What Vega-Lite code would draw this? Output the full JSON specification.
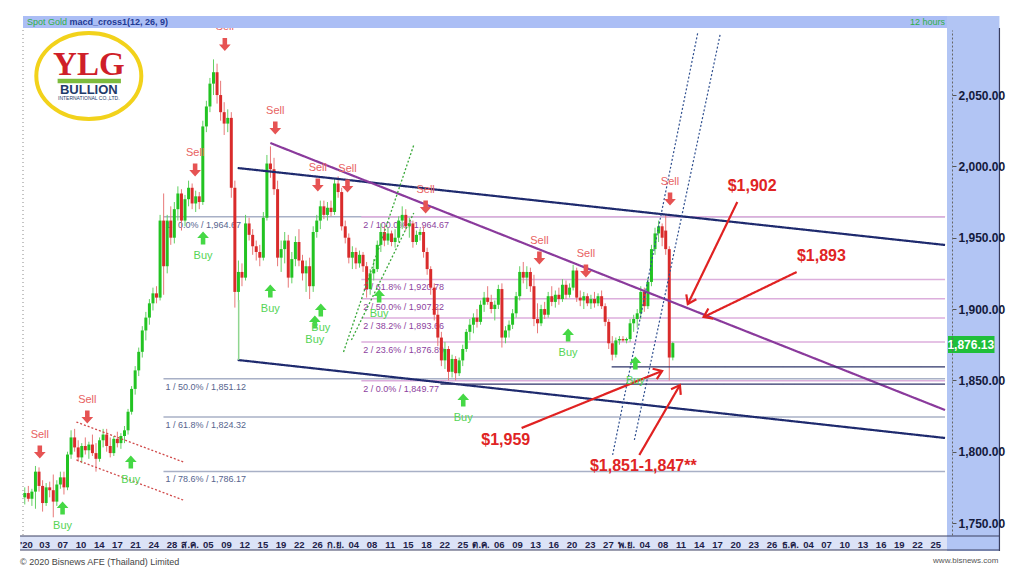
{
"$schema": "https://vega.github.io/schema/vega-lite/v6.json",
"width": 934, "height": 505,
"autosize": {"type": "none"},
"padding": {"left": 18, "top": 30, "right": 72, "bottom": 36},
"background": "white",
"config": {"view": {"stroke": null}, "font": "Liberation Sans"},
"resolve": {"scale": {"color": "independent", "shape": "independent", "strokeDash": "independent", "strokeWidth": "independent", "angle": "independent"}},
"datasets": {
"candles": [
{"i":0,"o":1768,"h":1775,"l":1763,"c":1771},{"i":1,"o":1771,"h":1776,"l":1765,"c":1767},{"i":2,"o":1767,"h":1774,"l":1762,"c":1772},{"i":3,"o":1772,"h":1790,"l":1760,"c":1786},{"i":4,"o":1786,"h":1789,"l":1772,"c":1776},{"i":5,"o":1776,"h":1780,"l":1758,"c":1764},{"i":6,"o":1764,"h":1778,"l":1762,"c":1775},{"i":7,"o":1775,"h":1779,"l":1768,"c":1773},{"i":8,"o":1773,"h":1784,"l":1754,"c":1765},{"i":9,"o":1765,"h":1780,"l":1762,"c":1777},
{"i":10,"o":1777,"h":1786,"l":1774,"c":1782},{"i":11,"o":1782,"h":1786,"l":1770,"c":1775},{"i":12,"o":1775,"h":1800,"l":1773,"c":1798},{"i":13,"o":1798,"h":1815,"l":1795,"c":1810},{"i":14,"o":1810,"h":1816,"l":1800,"c":1803},{"i":15,"o":1803,"h":1808,"l":1793,"c":1796},{"i":16,"o":1796,"h":1806,"l":1792,"c":1804},{"i":17,"o":1804,"h":1810,"l":1798,"c":1801},{"i":18,"o":1801,"h":1807,"l":1795,"c":1805},{"i":19,"o":1805,"h":1812,"l":1797,"c":1799},
{"i":20,"o":1799,"h":1806,"l":1786,"c":1795},{"i":21,"o":1795,"h":1810,"l":1793,"c":1808},{"i":22,"o":1808,"h":1816,"l":1803,"c":1812},{"i":23,"o":1812,"h":1816,"l":1800,"c":1804},{"i":24,"o":1804,"h":1810,"l":1796,"c":1799},{"i":25,"o":1799,"h":1811,"l":1797,"c":1809},{"i":26,"o":1809,"h":1814,"l":1803,"c":1806},{"i":27,"o":1806,"h":1813,"l":1802,"c":1811},{"i":28,"o":1811,"h":1818,"l":1806,"c":1815},{"i":29,"o":1815,"h":1830,"l":1812,"c":1828},
{"i":30,"o":1828,"h":1846,"l":1826,"c":1844},{"i":31,"o":1844,"h":1860,"l":1840,"c":1857},{"i":32,"o":1857,"h":1873,"l":1853,"c":1870},{"i":33,"o":1870,"h":1888,"l":1866,"c":1885},{"i":34,"o":1885,"h":1898,"l":1878,"c":1894},{"i":35,"o":1894,"h":1907,"l":1889,"c":1904},{"i":36,"o":1904,"h":1915,"l":1899,"c":1911},{"i":37,"o":1911,"h":1916,"l":1904,"c":1908},{"i":38,"o":1908,"h":1966,"l":1906,"c":1962},{"i":39,"o":1962,"h":1981,"l":1910,"c":1930},
{"i":40,"o":1930,"h":1966,"l":1925,"c":1962},{"i":41,"o":1962,"h":1972,"l":1945,"c":1950},{"i":42,"o":1950,"h":1975,"l":1946,"c":1970},{"i":43,"o":1970,"h":1986,"l":1962,"c":1981},{"i":44,"o":1981,"h":1984,"l":1955,"c":1962},{"i":45,"o":1962,"h":1980,"l":1958,"c":1977},{"i":46,"o":1977,"h":1990,"l":1972,"c":1985},{"i":47,"o":1985,"h":1988,"l":1970,"c":1974},{"i":48,"o":1974,"h":1983,"l":1968,"c":1979},{"i":49,"o":1979,"h":1982,"l":1970,"c":1975},
{"i":50,"o":1975,"h":2032,"l":1973,"c":2028},{"i":51,"o":2028,"h":2046,"l":2024,"c":2042},{"i":52,"o":2042,"h":2062,"l":2038,"c":2058},{"i":53,"o":2058,"h":2075,"l":2050,"c":2066},{"i":54,"o":2066,"h":2072,"l":2044,"c":2050},{"i":55,"o":2050,"h":2060,"l":2032,"c":2038},{"i":56,"o":2038,"h":2045,"l":2022,"c":2030},{"i":57,"o":2030,"h":2040,"l":2024,"c":2034},{"i":58,"o":2034,"h":2038,"l":1978,"c":1985},{"i":59,"o":1985,"h":1990,"l":1901,"c":1912},
{"i":60,"o":1912,"h":1934,"l":1905,"c":1926},{"i":61,"o":1926,"h":1932,"l":1916,"c":1922},{"i":62,"o":1922,"h":1966,"l":1920,"c":1960},{"i":63,"o":1960,"h":1964,"l":1948,"c":1952},{"i":64,"o":1952,"h":1956,"l":1938,"c":1944},{"i":65,"o":1944,"h":1948,"l":1934,"c":1940},{"i":66,"o":1940,"h":1945,"l":1930,"c":1936},{"i":67,"o":1936,"h":1968,"l":1934,"c":1964},{"i":68,"o":1964,"h":2008,"l":1962,"c":2002},{"i":69,"o":2002,"h":2014,"l":1992,"c":1998},
{"i":70,"o":1998,"h":2006,"l":1980,"c":1984},{"i":71,"o":1984,"h":1990,"l":1930,"c":1936},{"i":72,"o":1936,"h":1948,"l":1926,"c":1942},{"i":73,"o":1942,"h":1954,"l":1932,"c":1948},{"i":74,"o":1948,"h":1952,"l":1915,"c":1922},{"i":75,"o":1922,"h":1940,"l":1918,"c":1935},{"i":76,"o":1935,"h":1951,"l":1930,"c":1947},{"i":77,"o":1947,"h":1956,"l":1930,"c":1934},{"i":78,"o":1934,"h":1938,"l":1920,"c":1925},{"i":79,"o":1925,"h":1934,"l":1912,"c":1930},
{"i":80,"o":1930,"h":1936,"l":1907,"c":1916},{"i":81,"o":1916,"h":1958,"l":1912,"c":1954},{"i":82,"o":1954,"h":1966,"l":1950,"c":1962},{"i":83,"o":1962,"h":1976,"l":1956,"c":1972},{"i":84,"o":1972,"h":1976,"l":1963,"c":1966},{"i":85,"o":1966,"h":1975,"l":1962,"c":1971},{"i":86,"o":1971,"h":1976,"l":1965,"c":1968},{"i":87,"o":1968,"h":1992,"l":1966,"c":1988},{"i":88,"o":1988,"h":1993,"l":1978,"c":1982},{"i":89,"o":1982,"h":1985,"l":1955,"c":1958},
{"i":90,"o":1958,"h":1962,"l":1946,"c":1950},{"i":91,"o":1950,"h":1953,"l":1932,"c":1936},{"i":92,"o":1936,"h":1944,"l":1928,"c":1940},{"i":93,"o":1940,"h":1943,"l":1928,"c":1932},{"i":94,"o":1932,"h":1941,"l":1929,"c":1938},{"i":95,"o":1938,"h":1940,"l":1926,"c":1930},{"i":96,"o":1930,"h":1933,"l":1908,"c":1914},{"i":97,"o":1914,"h":1928,"l":1910,"c":1925},{"i":98,"o":1925,"h":1935,"l":1920,"c":1928},{"i":99,"o":1928,"h":1948,"l":1926,"c":1945},
{"i":100,"o":1945,"h":1960,"l":1940,"c":1954},{"i":101,"o":1954,"h":1958,"l":1944,"c":1948},{"i":102,"o":1948,"h":1957,"l":1945,"c":1953},{"i":103,"o":1953,"h":1955,"l":1944,"c":1947},{"i":104,"o":1947,"h":1956,"l":1943,"c":1950},{"i":105,"o":1950,"h":1965,"l":1947,"c":1962},{"i":106,"o":1962,"h":1972,"l":1956,"c":1966},{"i":107,"o":1966,"h":1970,"l":1955,"c":1958},{"i":108,"o":1958,"h":1964,"l":1950,"c":1960},{"i":109,"o":1960,"h":1962,"l":1943,"c":1947},
{"i":110,"o":1947,"h":1955,"l":1945,"c":1952},{"i":111,"o":1952,"h":1956,"l":1948,"c":1954},{"i":112,"o":1954,"h":1958,"l":1936,"c":1940},{"i":113,"o":1940,"h":1943,"l":1924,"c":1928},{"i":114,"o":1928,"h":1930,"l":1910,"c":1915},{"i":115,"o":1915,"h":1918,"l":1892,"c":1896},{"i":116,"o":1896,"h":1901,"l":1874,"c":1880},{"i":117,"o":1880,"h":1884,"l":1860,"c":1864},{"i":118,"o":1864,"h":1877,"l":1858,"c":1872},{"i":119,"o":1872,"h":1874,"l":1850,"c":1856},
{"i":120,"o":1856,"h":1868,"l":1852,"c":1865},{"i":121,"o":1865,"h":1867,"l":1850,"c":1855},{"i":122,"o":1855,"h":1866,"l":1853,"c":1864},{"i":123,"o":1864,"h":1875,"l":1860,"c":1872},{"i":124,"o":1872,"h":1886,"l":1870,"c":1884},{"i":125,"o":1884,"h":1893,"l":1878,"c":1889},{"i":126,"o":1889,"h":1897,"l":1883,"c":1894},{"i":127,"o":1894,"h":1900,"l":1887,"c":1891},{"i":128,"o":1891,"h":1906,"l":1889,"c":1903},{"i":129,"o":1903,"h":1912,"l":1898,"c":1908},
{"i":130,"o":1908,"h":1916,"l":1903,"c":1905},{"i":131,"o":1905,"h":1910,"l":1897,"c":1900},{"i":132,"o":1900,"h":1906,"l":1892,"c":1903},{"i":133,"o":1903,"h":1917,"l":1900,"c":1914},{"i":134,"o":1914,"h":1918,"l":1873,"c":1880},{"i":135,"o":1880,"h":1888,"l":1876,"c":1885},{"i":136,"o":1885,"h":1892,"l":1880,"c":1889},{"i":137,"o":1889,"h":1900,"l":1886,"c":1897},{"i":138,"o":1897,"h":1912,"l":1894,"c":1909},{"i":139,"o":1909,"h":1930,"l":1906,"c":1926},
{"i":140,"o":1926,"h":1933,"l":1918,"c":1922},{"i":141,"o":1922,"h":1930,"l":1914,"c":1926},{"i":142,"o":1926,"h":1929,"l":1912,"c":1916},{"i":143,"o":1916,"h":1924,"l":1888,"c":1893},{"i":144,"o":1893,"h":1904,"l":1883,"c":1890},{"i":145,"o":1890,"h":1903,"l":1888,"c":1900},{"i":146,"o":1900,"h":1905,"l":1893,"c":1896},{"i":147,"o":1896,"h":1912,"l":1894,"c":1909},{"i":148,"o":1909,"h":1916,"l":1902,"c":1905},{"i":149,"o":1905,"h":1913,"l":1901,"c":1910},
{"i":150,"o":1910,"h":1915,"l":1903,"c":1907},{"i":151,"o":1907,"h":1921,"l":1905,"c":1917},{"i":152,"o":1917,"h":1920,"l":1907,"c":1910},{"i":153,"o":1910,"h":1918,"l":1908,"c":1915},{"i":154,"o":1915,"h":1931,"l":1913,"c":1927},{"i":155,"o":1927,"h":1929,"l":1905,"c":1908},{"i":156,"o":1908,"h":1913,"l":1902,"c":1906},{"i":157,"o":1906,"h":1912,"l":1900,"c":1909},{"i":158,"o":1909,"h":1911,"l":1902,"c":1904},{"i":159,"o":1904,"h":1910,"l":1900,"c":1907},
{"i":160,"o":1907,"h":1912,"l":1901,"c":1904},{"i":161,"o":1904,"h":1911,"l":1902,"c":1909},{"i":162,"o":1909,"h":1913,"l":1900,"c":1902},{"i":163,"o":1902,"h":1904,"l":1888,"c":1891},{"i":164,"o":1891,"h":1893,"l":1872,"c":1876},{"i":165,"o":1876,"h":1881,"l":1864,"c":1868},{"i":166,"o":1868,"h":1880,"l":1866,"c":1878},{"i":167,"o":1878,"h":1881,"l":1875,"c":1879},{"i":168,"o":1879,"h":1881,"l":1877,"c":1878},{"i":169,"o":1878,"h":1880,"l":1876,"c":1879},
{"i":170,"o":1879,"h":1893,"l":1877,"c":1890},{"i":171,"o":1890,"h":1896,"l":1884,"c":1893},{"i":172,"o":1893,"h":1900,"l":1887,"c":1897},{"i":173,"o":1897,"h":1916,"l":1893,"c":1912},{"i":174,"o":1912,"h":1915,"l":1898,"c":1902},{"i":175,"o":1902,"h":1922,"l":1900,"c":1919},{"i":176,"o":1919,"h":1945,"l":1916,"c":1942},{"i":177,"o":1942,"h":1957,"l":1938,"c":1953},{"i":178,"o":1953,"h":1962,"l":1947,"c":1958},{"i":179,"o":1958,"h":1960,"l":1944,"c":1950},
{"i":180,"o":1955,"h":1966,"l":1938,"c":1942},{"i":181,"o":1942,"h":1944,"l":1850,"c":1866},{"i":182,"o":1866,"h":1877,"l":1864,"c":1876.13}
],
"fib": [
{"set":"1","i1":38.95,"i2":258.45,"p":1964.67,"t":"1 / 0.0% / 1,964.67"},
{"set":"1","i1":38.95,"i2":258.45,"p":1851.12,"t":"1 / 50.0% / 1,851.12"},
{"set":"1","i1":38.95,"i2":258.45,"p":1824.32,"t":"1 / 61.8% / 1,824.32"},
{"set":"1","i1":38.95,"i2":258.45,"p":1786.17,"t":"1 / 78.6% / 1,786.17"},
{"set":"2","i1":94.52,"i2":258.45,"p":1964.67,"t":"2 / 100.0% / 1,964.67"},
{"set":"2","i1":94.52,"i2":258.45,"p":1920.78,"t":"2 / 61.8% / 1,920.78"},
{"set":"2","i1":94.52,"i2":258.45,"p":1907.22,"t":"2 / 50.0% / 1,907.22"},
{"set":"2","i1":94.52,"i2":258.45,"p":1893.66,"t":"2 / 38.2% / 1,893.66"},
{"set":"2","i1":94.52,"i2":258.45,"p":1876.89,"t":"2 / 23.6% / 1,876.89"},
{"set":"2","i1":94.52,"i2":258.45,"p":1849.77,"t":"2 / 0.0% / 1,849.77"}
],
"lines": [
{"kind":"navy","i1":59.79,"p1":1998.86,"i2":258.45,"p2":1944.9},
{"kind":"navy","i1":59.79,"p1":1864.3,"i2":258.45,"p2":1809.6},
{"kind":"greenv","i1":60.07,"p1":1906.3,"i2":60.07,"p2":1864.3},
{"kind":"purple","i1":68.96,"p1":2016.4,"i2":258.45,"p2":1829.2},
{"kind":"greendot","i1":89.52,"p1":1869.9,"i2":109.25,"p2":2015.0},
{"kind":"greendot","i1":91.74,"p1":1878.3,"i2":109.25,"p2":1967.3},
{"kind":"bluedot","i1":165.09,"p1":1797.7,"i2":188.99,"p2":2093.5},
{"kind":"bluedot","i1":171.2,"p1":1808.2,"i2":195.38,"p2":2093.5},
{"kind":"reddot","i1":14.5,"p1":1820.8,"i2":44.51,"p2":1792.8},
{"kind":"reddot","i1":14.5,"p1":1794.2,"i2":44.51,"p2":1766.1},
{"kind":"dark","i1":164.82,"p1":1859.4,"i2":258.45,"p2":1859.4},
{"kind":"dark","i1":116.75,"p1":1847.4,"i2":258.45,"p2":1847.4},
{"kind":"arrow","i1":200.10,"p1":1975.0,"i2":186.21,"p2":1903.5},
{"kind":"arrow","i1":216.77,"p1":1925.95,"i2":190.65,"p2":1894.4},
{"kind":"arrow","i1":139.53,"p1":1816.6,"i2":178.99,"p2":1856.6},
{"kind":"arrow","i1":172.59,"p1":1797.7,"i2":183.99,"p2":1846.7},
{"kind":"axisdot","i1":-0.5,"p1":1741.6,"i2":-0.5,"p2":2095.6},
{"kind":"frame","i1":273.73,"p1":2097.0,"i2":273.73,"p2":1730.4},
{"kind":"frame","i1":-1.33,"p1":1740.9,"i2":273.73,"p2":1740.9},
{"kind":"frame","i1":-1.33,"p1":1731.1,"i2":273.73,"p2":1731.1},
{"kind":"logobar","i1":9.22,"p1":2059.85,"i2":27.0,"p2":2059.85}
],
"heads": [
{"name":"a","i":186.21,"p":1903.5},{"name":"b","i":190.65,"p":1894.4},{"name":"c","i":178.99,"p":1856.6},{"name":"d","i":183.99,"p":1846.7}
],
"signals": [
{"type":"Sell","i":4.22,"p":1799.8},{"type":"Sell","i":17.56,"p":1824.3},{"type":"Sell","i":56.18,"p":2085.5},{"type":"Sell","i":47.84,"p":1997.5},{"type":"Sell","i":70.35,"p":2026.9},{"type":"Sell","i":82.3,"p":1986.9},{"type":"Sell","i":90.63,"p":1986.2},{"type":"Sell","i":112.58,"p":1971.5},{"type":"Sell","i":144.53,"p":1935.8},{"type":"Sell","i":157.59,"p":1926.7},{"type":"Sell","i":181.21,"p":1977.1},
{"type":"Buy","i":10.61,"p":1760.5},{"type":"Buy","i":29.78,"p":1792.8},{"type":"Buy","i":50.07,"p":1949.8},{"type":"Buy","i":68.96,"p":1912.6},{"type":"Buy","i":83.13,"p":1899.3},{"type":"Buy","i":81.46,"p":1890.9},{"type":"Buy","i":99.52,"p":1909.1},{"type":"Buy","i":123.14,"p":1836.2},{"type":"Buy","i":152.59,"p":1881.8},{"type":"Buy","i":171.48,"p":1862.2}
],
"boxes": [
{"name":"panel","i1":259.0,"i2":273.73,"p1":2105.4,"p2":1730.4},
{"name":"band","i1":-1.33,"i2":259.0,"p1":1740.9,"p2":1731.1},
{"name":"header","i1":-0.5,"i2":259.0,"p1":2105.4,"p2":2097.0},
{"name":"price","i1":259.28,"i2":272.34,"p1":1881.1,"p2":1869.2}
],
"texts": [
{"k":"ylg","t":"YLG","i":17.98,"p":2071.1},
{"k":"bullion","t":"BULLION","i":17.98,"p":2053.2},
{"k":"intl","t":"INTERNATIONAL CO.,LTD.","i":17.98,"p":2047.6},
{"k":"spot","t":"Spot Gold","i":0.61,"p":2101.2},
{"k":"macd","t":"macd_cross1(12, 26, 9)","i":12.56,"p":2101.2},
{"k":"hours","t":"12 hours","i":258.45,"p":2101.2},
{"k":"usd","t":"$1,902","i":204.27,"p":1986.2},
{"k":"usd","t":"$1,893","i":223.72,"p":1937.2},
{"k":"usd","t":"$1,959","i":135.09,"p":1808.2},
{"k":"usd","t":"$1,851-1,847**","i":173.7,"p":1790.0},
{"k":"price","t":"1,876.13","i":265.67,"p":1875.1},
{"k":"copy","t":"© 2020 Bisnews AFE (Thailand) Limited","i":-1.33,"p":1722.7},
{"k":"web","t":"www.bisnews.com","i":273.45,"p":1723.4}
],
"logo": [{"i":17.98,"p":2063.35}]
},
"encoding": {
"x": {"field":"i","type":"quantitative","title":null,"scale":{"domain":[-0.5,259],"nice":false,"zero":false},
 "axis":{"values":[0.33,5.44,10.55,15.65,20.76,25.87,30.98,36.08,41.19,46.3,51.4,56.51,61.62,66.73,71.83,76.94,82.05,87.15,92.26,97.37,102.47,107.58,112.69,117.8,122.9,128.01,133.12,138.22,143.33,148.44,153.54,158.65,163.76,168.87,173.97,179.08,184.19,189.29,194.4,199.51,204.61,209.72,214.83,219.94,225.04,230.15,235.26,240.36,245.47,250.58,255.68],
 "labelExpr":"[\"'20\",\"03\",\"07\",\"10\",\"14\",\"17\",\"21\",\"24\",\"28\",\"ส.ค.\",\"05\",\"09\",\"12\",\"15\",\"19\",\"22\",\"26\",\"ก.ย.\",\"04\",\"08\",\"11\",\"15\",\"18\",\"22\",\"25\",\"ต.ค.\",\"06\",\"09\",\"13\",\"16\",\"20\",\"23\",\"27\",\"พ.ย.\",\"04\",\"08\",\"11\",\"14\",\"17\",\"20\",\"23\",\"26\",\"ธ.ค.\",\"04\",\"07\",\"10\",\"13\",\"16\",\"19\",\"22\",\"25\"][round((datum.value-0.334)/5.107)]",
 "domain":false,"ticks":false,"grid":false,"labelFont":"Liberation Sans","labelFontSize":9.5,"labelFontWeight":"bold","labelColor":"#1c2148","labelPadding":4,"labelBaseline":"top","labelAngle":0,"labelOverlap":false,"labelFlush":false,"zindex":2}},
"y": {"field":"p","type":"quantitative","title":null,"scale":{"domain":[1741.6,2095.6],"nice":false,"zero":false},
 "axis":{"orient":"right","values":[1750,1800,1850,1900,1950,2000,2050],"format":",.2f","domain":true,"domainColor":"#666","domainDash":[2,2],"ticks":true,"tickSize":4,"tickColor":"#555","labelFont":"Liberation Sans","labelFontSize":12,"labelFontWeight":"bold","labelColor":"#141a3c","labelPadding":2,"grid":false,"zindex":2}}
},
"layer": [
{"data":{"name":"boxes"},"transform":[{"filter":"datum.name==='panel'||datum.name==='band'"}],
 "mark":{"type":"rect"},
 "encoding":{"x":{"field":"i1","type":"quantitative","title":null,"scale":{"domain":[-0.5,259],"nice":false,"zero":false}},"x2":{"field":"i2"},
  "y":{"field":"p1","type":"quantitative","title":null,"scale":{"domain":[1741.6,2095.6],"nice":false,"zero":false}},"y2":{"field":"p2"},
  "color":{"field":"name","type":"nominal","scale":{"domain":["panel","band"],"range":["#b2c5f4","#dce3f7"]},"legend":null}}},
{"data":{"name":"logo"},"mark":{"type":"point","shape":"M-1,0A1,0.82,0,1,1,1,0A1,0.82,0,1,1,-1,0Z","size":11025,"filled":false,"stroke":"#f2d21b","strokeWidth":4,"opacity":1}},
{"data":{"name":"fib"},"mark":{"type":"rule","strokeWidth":1.5},
 "encoding":{"x":{"field":"i1","type":"quantitative","title":null,"scale":{"domain":[-0.5,259],"nice":false,"zero":false}},"x2":{"field":"i2"},
  "color":{"field":"set","type":"nominal","scale":{"domain":["1","2"],"range":["#a8b0c6","#dcaedc"]},"legend":null}}},
{"data":{"name":"fib"},"mark":{"type":"text","align":"left","baseline":"middle","dx":2,"dy":8,"fontSize":9,"font":"Liberation Sans"},
 "encoding":{"x":{"field":"i1","type":"quantitative","title":null,"scale":{"domain":[-0.5,259],"nice":false,"zero":false}},"text":{"field":"t"},
  "color":{"field":"set","type":"nominal","scale":{"domain":["1","2"],"range":["#56648e","#8d3f9e"]},"legend":null}}},
{"data":{"name":"candles"},"mark":{"type":"rule","strokeWidth":1},
 "encoding":{"y":{"field":"l","type":"quantitative","title":null,"scale":{"domain":[1741.6,2095.6],"nice":false,"zero":false}},"y2":{"field":"h"},
  "color":{"condition":{"test":"datum.c>=datum.o","value":"#63d063"},"value":"#e87878"}}},
{"data":{"name":"candles"},"mark":{"type":"bar","size":3},
 "encoding":{"y":{"field":"o","type":"quantitative","title":null,"scale":{"domain":[1741.6,2095.6],"nice":false,"zero":false}},"y2":{"field":"c"},
  "color":{"condition":{"test":"datum.c>=datum.o","value":"#22c322"},"value":"#d92b2b"}}},
{"data":{"name":"lines"},"mark":{"type":"rule"},
 "encoding":{"x":{"field":"i1","type":"quantitative","title":null,"scale":{"domain":[-0.5,259],"nice":false,"zero":false}},"x2":{"field":"i2"},
  "y":{"field":"p1","type":"quantitative","title":null,"scale":{"domain":[1741.6,2095.6],"nice":false,"zero":false}},"y2":{"field":"p2"},
  "color":{"field":"kind","type":"nominal","scale":{"domain":["navy","greenv","purple","greendot","bluedot","reddot","dark","arrow","axisdot","frame","logobar"],"range":["#1e2a6e","#8fd68f","#8a3a9c","#3aa83a","#2f4f8f","#d04a4a","#2b3268","#e02222","#8a8a8a","#3a3f60","#7dbb3c"]},"legend":null},
  "strokeDash":{"field":"kind","type":"nominal","scale":{"domain":["navy","greenv","purple","greendot","bluedot","reddot","dark","arrow","axisdot","frame","logobar"],"range":[[1,0],[1,0],[1,0],[2,2],[2,2],[2,2],[1,0],[1,0],[1,3],[1,0],[1,0]]},"legend":null},
  "strokeWidth":{"field":"kind","type":"nominal","scale":{"type":"ordinal","domain":["navy","greenv","purple","greendot","bluedot","reddot","dark","arrow","axisdot","frame","logobar"],"range":[2.2,1.5,2.2,1.3,1.2,1.3,1.2,2.2,1,1.2,4.5]},"legend":null}}},
{"data":{"name":"signals"},"mark":{"type":"point","filled":true,"size":169,"opacity":1,"strokeWidth":0},
 "encoding":{"shape":{"field":"type","type":"nominal","scale":{"domain":["Sell","Buy"],"range":["M-0.35,-1L0.35,-1L0.35,0L0.9,0L0,1L-0.9,0L-0.35,0Z","M-0.35,1L0.35,1L0.35,0L0.9,0L0,-1L-0.9,0L-0.35,0Z"]},"legend":null},
  "color":{"field":"type","type":"nominal","scale":{"domain":["Sell","Buy"],"range":["#e65353","#45d845"]},"legend":null}}},
{"data":{"name":"signals"},"transform":[{"filter":"datum.type==='Sell'"}],"mark":{"type":"text","dy":-17,"fontSize":11,"color":"#e86262"},"encoding":{"text":{"field":"type"}}},
{"data":{"name":"signals"},"transform":[{"filter":"datum.type==='Buy'"}],"mark":{"type":"text","dy":18,"fontSize":11,"color":"#55d455"},"encoding":{"text":{"field":"type"}}},
{"data":{"name":"heads"},"mark":{"type":"point","shape":"M-0.7,1L0,0L0.7,1","size":256,"filled":false,"color":"#e02222","strokeWidth":2.2,"opacity":1},
 "encoding":{"angle":{"field":"name","type":"nominal","scale":{"type":"ordinal","domain":["a","b","c","d"],"range":[206,244,68,30]},"legend":null}}},
{"data":{"name":"texts"},"transform":[{"filter":"datum.k==='usd'"}],"mark":{"type":"text","fontSize":16,"fontWeight":"bold","color":"#e02424"},"encoding":{"text":{"field":"t"}}},
{"data":{"name":"texts"},"transform":[{"filter":"datum.k==='ylg'"}],"mark":{"type":"text","font":"Liberation Serif","fontSize":33,"fontWeight":"bold","color":"#cf1f29"},"encoding":{"text":{"field":"t"}}},
{"data":{"name":"texts"},"transform":[{"filter":"datum.k==='bullion'"}],"mark":{"type":"text","fontSize":13,"fontWeight":"bold","color":"#1f3b6b"},"encoding":{"text":{"field":"t"}}},
{"data":{"name":"texts"},"transform":[{"filter":"datum.k==='intl'"}],"mark":{"type":"text","fontSize":5,"color":"#1f3b6b"},"encoding":{"text":{"field":"t"}}},
{"data":{"name":"boxes"},"transform":[{"filter":"datum.name==='header'||datum.name==='price'"}],
 "mark":{"type":"rect"},
 "encoding":{"x":{"field":"i1","type":"quantitative","title":null,"scale":{"domain":[-0.5,259],"nice":false,"zero":false}},"x2":{"field":"i2"},
  "y":{"field":"p1","type":"quantitative","title":null,"scale":{"domain":[1741.6,2095.6],"nice":false,"zero":false}},"y2":{"field":"p2"},
  "color":{"field":"name","type":"nominal","scale":{"domain":["header","price"],"range":["#abbef5","#1fbf3a"]},"legend":null}}},
{"data":{"name":"texts"},"transform":[{"filter":"datum.k==='spot'"}],"mark":{"type":"text","align":"left","fontSize":9,"font":"Liberation Sans","color":"#2fae48"},"encoding":{"text":{"field":"t"}}},
{"data":{"name":"texts"},"transform":[{"filter":"datum.k==='macd'"}],"mark":{"type":"text","align":"left","fontSize":9,"font":"Liberation Sans","fontWeight":"bold","color":"#1f3a93"},"encoding":{"text":{"field":"t"}}},
{"data":{"name":"texts"},"transform":[{"filter":"datum.k==='hours'"}],"mark":{"type":"text","align":"right","fontSize":9,"font":"Liberation Sans","color":"#2fae48"},"encoding":{"text":{"field":"t"}}},
{"data":{"name":"texts"},"transform":[{"filter":"datum.k==='price'"}],"mark":{"type":"text","fontSize":12,"fontWeight":"bold","color":"white"},"encoding":{"text":{"field":"t"}}},
{"data":{"name":"texts"},"transform":[{"filter":"datum.k==='copy'"}],"mark":{"type":"text","align":"left","fontSize":9,"font":"Liberation Sans","color":"#444"},"encoding":{"text":{"field":"t"}}},
{"data":{"name":"texts"},"transform":[{"filter":"datum.k==='web'"}],"mark":{"type":"text","align":"right","fontSize":8,"font":"Liberation Sans","color":"#555"},"encoding":{"text":{"field":"t"}}}
]
}
